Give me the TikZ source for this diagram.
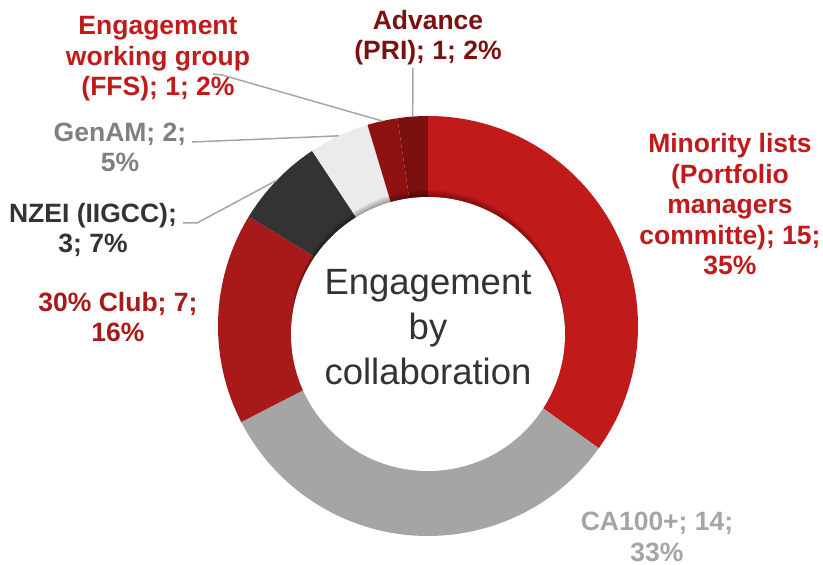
\documentclass[tikz,border=0pt]{standalone}
\usepackage{fontspec}
\setmainfont{Liberation Sans}
\definecolor{minred}{HTML}{C01A1A}
\definecolor{cagray}{HTML}{A5A5A5}
\definecolor{clubred}{HTML}{A81A1A}
\definecolor{nzdark}{HTML}{333333}
\definecolor{genlight}{HTML}{EBEBEB}
\definecolor{ewgred}{HTML}{8F1212}
\definecolor{advred}{HTML}{7A1010}
\definecolor{leadgray}{HTML}{A6A6A6}
\begin{document}
\begin{tikzpicture}[
    x=1pt,
    y=1pt,
    lbl/.style={
      font=\fontsize{26.5}{30.5}\selectfont\bfseries,
      align=center,
      anchor=base,
      inner sep=0pt
    },
    leader/.style={leadgray,line width=1.5pt},
  ]
  \useasboundingbox (-428,-239) rectangle (395,326);
  \foreach \a/\b/\c in {90/-35.581/minred,
                        -35.581/-152.791/cagray,
                        -152.791/-211.395/clubred,
                        -211.395/-236.512/nzdark,
                        -236.512/-253.256/genlight,
                        -253.256/-261.628/ewgred,
                        -261.628/-270/advred}
    \fill[\c] (0,0) -- (\a:210) arc[start angle=\a, end angle=\b, radius=210] -- cycle;
  \foreach \k in {1,...,7}
    \fill[black,opacity=0.05] (0,-8+\k) circle[radius=137];
  \fill[white] (0,-8) circle[radius=137];
  \node[font=\fontsize{36.5}{45}\selectfont, text=nzdark, align=center,
    anchor=base, inner sep=0pt] (title) at (0,-59)
    {Engagement\\by\\collaboration};
  \node[lbl, text=minred] (minlbl) at (302,51)
    {Minority lists\\(Portfolio\\managers\\committe); 15;\\35\%};
  \node[lbl, text=cagray] (calbl) at (229,-235) {CA100+; 14;\\33\%};
  \node[lbl, text=clubred] (clublbl) at (-310,-16) {30\% Club; 7;\\16\%};
  \node[lbl, text=nzdark] (nzlbl) at (-335,73) {NZEI (IIGCC);\\3; 7\%};
  \node[lbl, text=gray] (genlbl) at (-308,154) {GenAM; 2;\\5\%};
  \node[lbl, text=minred] (ewglbl) at (-270,230)
    {Engagement\\working group\\(FFS); 1; 2\%};
  \node[lbl, text=advred] (advlbl) at (0,266) {Advance\\(PRI); 1; 2\%};
  \coordinate (advtip) at (-265.814:210);
  \coordinate (ewgtip) at (-257.442:210);
  \coordinate (gentip) at (-244.884:210);
  \coordinate (nztip) at (-223.953:210);
  \coordinate (advfoot) at (-15,258);
  \coordinate (ewgfoot) at (-215,252);
  \coordinate (genfoot) at (-236,184);
  \coordinate (nzfoot) at (-245,103);
  \draw[leader] (advfoot) -- (advtip);
  \draw[leader] (ewgfoot) -- ++(9,-1) -- (ewgtip);
  \draw[leader] (genfoot) -- (gentip);
  \draw[leader] (nzfoot) -- ++(14,0) -- (nztip);
\end{tikzpicture}
\end{document}
